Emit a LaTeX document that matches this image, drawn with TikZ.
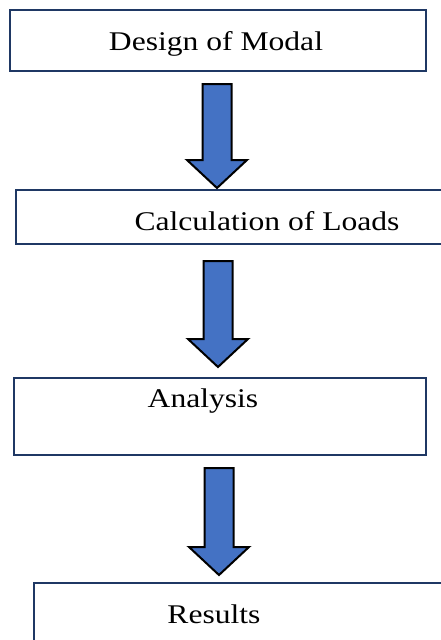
\documentclass[tikz,border=0pt]{standalone}
\usepackage{fontspec}
\setmainfont{Liberation Serif}
\usetikzlibrary{calc}
\definecolor{boxnavy}{RGB}{31,56,100}
\definecolor{arrowblue}{RGB}{68,114,196}
\tikzset{
  stepframe/.style={draw=boxnavy, line width=2.2pt, fill=white, inner sep=0pt, anchor=north west},
  steptext/.style={anchor=base, xscale=1.17, font=\fontsize{27}{32}\selectfont},
  bigarrow/.style={draw=black, line width=2pt, fill=arrowblue}
}
\newcommand{\blockarrow}[2]{%
  \draw[bigarrow] ($(#1)+(-14.5,0)$) -- ($(#1)+(14.5,0)$) -- ($(#2)+(14.5,28)$)
  -- ($(#2)+(30,28)$) -- (#2) -- ($(#2)+(-30,28)$) -- ($(#2)+(-14.5,28)$) -- cycle;}

\begin{document}
\begin{tikzpicture}[x=1pt,y=1pt]
\clip (0,0) rectangle (441,-640);
\node[stepframe, minimum width=416pt, minimum height=61pt] (design) at (9,-9) {};
\node[stepframe, minimum width=445pt, minimum height=54pt] (loads) at (15,-189) {};
\node[stepframe, minimum width=412pt, minimum height=77pt] (analysis) at (13,-377) {};
\node[stepframe, minimum width=427pt, minimum height=78pt] (results) at (33,-582) {};
\node[steptext] (designtext) at (216,-50) {Design of Modal};
\node[steptext] (loadstext) at (267,-230) {Calculation of Loads};
\node[steptext] (analysistext) at (203,-407) {Analysis};
\node[steptext] (resultstext) at (214,-623) {Results};
% block arrows between the steps
\coordinate (a1) at (217,-84);  \coordinate (h1) at (217,-188);
\coordinate (a2) at (218,-261); \coordinate (h2) at (218,-367);
\coordinate (a3) at (219,-468); \coordinate (h3) at (219,-575);
\blockarrow{a1}{h1}
\blockarrow{a2}{h2}
\blockarrow{a3}{h3}
\end{tikzpicture}
\end{document}
